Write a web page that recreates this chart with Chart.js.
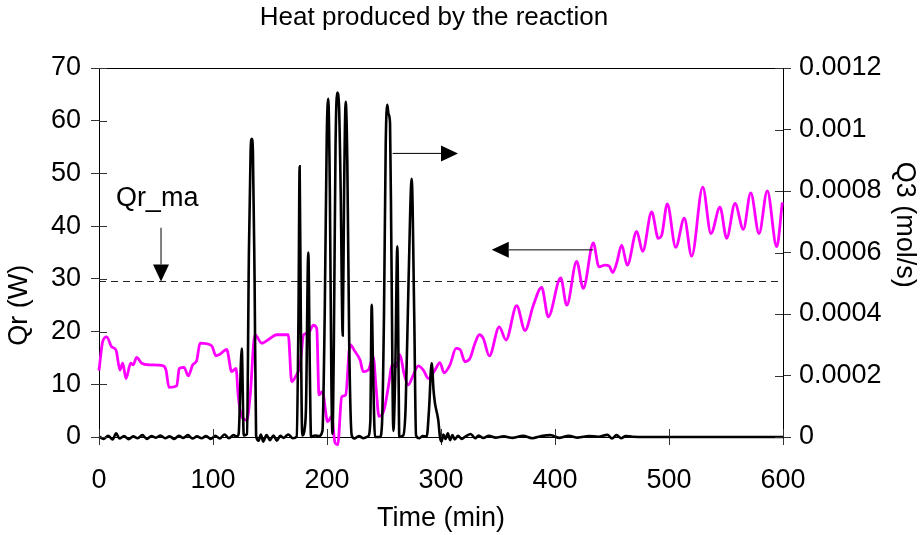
<!DOCTYPE html>
<html>
<head>
<meta charset="utf-8">
<script src="https://cdn.jsdelivr.net/npm/chart.js@4"></script>
<style>
  body { margin: 0; background: #fff; }
</style>
</head>
<body>
<canvas id="heatChart" width="920" height="535"></canvas>
<script>
// Qr (W), left axis
const qrTime = [0, 3.2, 6.8, 11.1, 14.9, 18.4, 20.8, 23.7, 27.8, 30, 33, 37.5, 44, 56.4, 58.8, 61.4, 68.2, 70.4, 74.6, 78.3, 82.2, 85.7, 88.6, 98.9, 102.6, 106.1, 112, 116.4, 120.2, 122.2, 125.2, 129.6, 132.5, 136.8, 142.7, 150, 155.9, 166, 169, 172.5, 176.3, 179.5, 183.6, 188, 191, 193, 195.9, 200.6, 204.1, 207, 209.4, 212.9, 216.4, 220.2, 224.6, 229, 231.8, 236.2, 240.6, 243, 245.6, 250, 253.8, 257.3, 260.5, 264, 267.5, 271.3, 275.7, 280.1, 284.5, 288.9, 294.7, 299.1, 302.6, 307.9, 313.2, 316.7, 321, 325.4, 329.8, 333.6, 337.1, 342.4, 351.1, 357, 366.4, 373.7, 381, 388.3, 394.1, 405, 410.3, 419, 424.8, 433.6, 438.5, 443.9, 447.6, 450.6, 454.1, 458.5, 463.4, 471.7, 476.9, 484.8, 490.6, 493.6, 498.5, 505.9, 513.4, 519.9, 529.6, 536.8, 544.7, 550.6, 557.9, 565.2, 571.7, 579, 586.2, 594.5, 599.4];
const qrValues = [12.6, 18.1, 19.0, 17.1, 16.5, 12.7, 14.0, 11.1, 14.0, 13.7, 15.1, 14.0, 13.7, 13.5, 12.7, 9.4, 9.7, 13.0, 13.2, 11.6, 13.7, 14.5, 17.8, 17.3, 15.4, 15.7, 16.6, 12.4, 13.0, 7.6, 3.9, 3.2, 7.6, 19.4, 17.8, 18.7, 19.4, 19.4, 10.5, 11.5, 13.5, 19.4, 19.7, 21.2, 20.6, 8.0, 8.6, 2.9, 3.9, -1.1, -1.5, 7.6, 8.0, 17.5, 16.2, 14.6, 12.4, 12.7, 15.2, 9.5, 3.9, 5.1, 9.5, 13.7, 13.3, 15.6, 12.1, 9.9, 11.8, 13.5, 12.7, 11.1, 12.7, 14.1, 12.2, 13.7, 16.8, 16.6, 14.3, 14.9, 17.8, 19.4, 18.7, 15.4, 20.9, 18.4, 24.9, 20.2, 25.0, 28.4, 22.8, 30.2, 25.0, 33.3, 28.2, 36.8, 32.3, 32.6, 32.4, 31.2, 33.0, 36.4, 32.6, 39.0, 35.2, 42.7, 37.7, 38.3, 44.2, 36.0, 41.5, 34.3, 47.4, 38.6, 43.6, 37.7, 44.3, 39.4, 46.3, 38.6, 46.7, 36.1, 44.5];

// Q3 (mol/s), right axis
const q3Time = [0, 4, 8, 12, 15, 18, 22, 26, 30, 34, 38, 42, 46, 50, 54, 58, 62, 66, 70, 74, 78, 82, 86, 90, 94, 98, 102, 106, 110, 114, 118, 121, 122.5, 125.2, 127, 129.8, 131.5, 133, 134, 135, 136.5, 137.8, 140, 142, 144, 147, 150, 153, 156, 159, 162, 166, 170, 173.4, 175, 176, 177, 178.3, 180.5, 181.6, 183.6, 185, 186, 189.5, 193, 196, 198, 199.8, 201.1, 202.5, 203.8, 204.8, 206, 207.5, 209, 210.5, 212, 213.8, 215, 216.4, 217.8, 219.5, 221.7, 224, 228, 232, 236, 238, 239.2, 240.5, 242.1, 246.5, 248.2, 250, 251.5, 252.9, 254, 255.3, 256.5, 258.2, 259.8, 261.7, 262.8, 263.4, 266.9, 269, 271.5, 274.3, 276.5, 278.1, 281, 284, 287.5, 289.5, 291.8, 293.5, 294.7, 297.6, 299.1, 300.5, 302, 304, 306, 308, 310, 312, 315, 318, 322, 326, 330, 333, 337, 342, 348, 355, 363, 372, 380, 388, 396, 404, 412, 420, 430, 438, 446, 450, 454, 458, 462, 468, 480, 600];
const q3Values = [0.000002, -0.000006, 0.000004, -0.000008, 0.000012, -0.000005, 0.000003, -0.000007, 0.000002, -0.000004, 0.000006, -0.000006, 0.000003, -0.000002, 0.000005, -0.000004, 0.000002, -0.000006, 0.000004, -0.000003, 0.000006, -0.000005, 0.000002, -0.000004, 0.000003, -0.000006, 0.000004, -0.000005, 0.000008, -0.000004, 0.000006, 0.000002, 0.00001, 0.000288, 0.000005, 0.00001, 0.0006, 0.00093, 0.00097, 0.00093, 0.0005, 0.000005, -0.000012, 0.000008, -0.000015, 0.000006, -0.00001, 0.000005, -0.000012, 0.000004, -0.000003, 0.000008, -0.000004, 0.000002, 0.0004, 0.00088, 0.0004, 0.000005, 0.00003, 0.0001, 0.0006, 0.0002, 0, 0.000005, 0.000003, 0.00002, 0.0004, 0.00098, 0.0011, 0.0008, 0.0002, 0.00001, 0.0003, 0.00095, 0.00112, 0.00108, 0.0008, 0.00033, 0.0008, 0.00109, 0.0009, 0.0003, 0.000005, -0.000005, 0.000003, -0.000004, 0.000002, 0.00005, 0.00043, 0.0002, 0, 0, 0.00004, 0.0004, 0.00095, 0.00108, 0.00105, 0.00102, 0.0006, 0.00002, 0.0002, 0.00062, 0.0002, 0, 0.000005, 0.0001, 0.0005, 0.00084, 0.0004, 0.000005, -0.000004, 0.000003, 0.000002, 0.00009, 0.00024, 0.00015, 0.00011, 0.000055, 0, -0.000015, 0.000008, -0.000006, 0.000012, -0.00001, 0.000006, -0.000008, 0.000004, -0.000006, 0.000003, 0.00001, -0.000004, 0.000005, -0.000003, 0.000004, -0.000002, 0.000002, -0.000003, 0.000004, -0.000004, 0.000003, 0.000006, -0.000003, 0.000004, -0.000002, 0.000003, 0.000001, 0.000007, -0.000005, 0.000006, -0.000004, 0.000003, 0.000001, 0, 0];

const qrMaTime = [0, 600];
const qrMaValues = [29.5, 29.5];

const xTicks = [0, 100, 200, 300, 400, 500, 600];

const FONT = "'Liberation Sans', Arial, sans-serif";
const TEXT_SIZE = 27;

function toPoints(xs, ys) {
  return xs.map((x, i) => ({ x: x, y: ys[i] }));
}

// title, axis titles, arrows, label, top border, inner half of the ticks
const decorations = {
  id: "decorations",
  afterDraw(chart) {
    const c = chart.ctx;
    const x = chart.scales.x, yl = chart.scales.y, yr = chart.scales.y2;
    const a = chart.chartArea;
    c.save();
    c.strokeStyle = "#000";
    c.lineWidth = 1;
    c.beginPath();
    c.moveTo(a.left, a.top + 0.5);
    c.lineTo(a.right, a.top + 0.5);
    c.stroke();

    c.strokeStyle = "#333";
    c.beginPath();
    yl.ticks.forEach(t => {
      const p = Math.round(yl.getPixelForValue(t.value)) + 0.5;
      c.moveTo(a.left, p); c.lineTo(a.left + 8, p);
    });
    yr.ticks.forEach(t => {
      const p = Math.round(yr.getPixelForValue(t.value)) + 0.5;
      c.moveTo(a.right, p); c.lineTo(a.right - 8, p);
    });
    x.ticks.forEach(t => {
      const p = Math.round(x.getPixelForValue(t.value)) + 0.5;
      c.moveTo(p, a.bottom); c.lineTo(p, a.bottom - 8);
    });
    c.stroke();

    function arrow(x1, y1, x2, y2) {
      const ang = Math.atan2(y2 - y1, x2 - x1);
      const len = 17, half = 8;
      const bx = x2 - len * Math.cos(ang), by = y2 - len * Math.sin(ang);
      c.strokeStyle = "#000";
      c.fillStyle = "#000";
      c.lineWidth = 1;
      c.beginPath();
      c.moveTo(x1, y1);
      c.lineTo(bx, by);
      c.stroke();
      c.beginPath();
      c.moveTo(x2, y2);
      c.lineTo(bx - half * Math.sin(ang), by + half * Math.cos(ang));
      c.lineTo(bx + half * Math.sin(ang), by - half * Math.cos(ang));
      c.closePath();
      c.fill();
    }

    const mx = x.getPixelForValue(54.4);
    arrow(mx, yl.getPixelForValue(39.7), mx, yl.getPixelForValue(29.5));
    arrow(x.getPixelForValue(257.6), yl.getPixelForValue(53.8), x.getPixelForValue(314.9), yl.getPixelForValue(53.8));
    arrow(x.getPixelForValue(433.6), yl.getPixelForValue(35.5), x.getPixelForValue(344.5), yl.getPixelForValue(35.5));

    c.fillStyle = "#000";
    c.textAlign = "center";
    c.textBaseline = "middle";
    c.font = TEXT_SIZE + "px " + FONT;
    c.fillText("Qr_ma", x.getPixelForValue(51), yl.getPixelForValue(45.2));

    c.font = "26px " + FONT;
    c.fillText("Heat produced by the reaction", 434, 18);

    c.font = TEXT_SIZE + "px " + FONT;
    c.save();
    c.translate(20, yl.getPixelForValue(25));
    c.rotate(-Math.PI / 2);
    c.fillText("Qr (W)", 0, 0);
    c.restore();

    c.save();
    c.translate(904, yr.getPixelForValue(0.00069));
    c.rotate(Math.PI / 2);
    c.fillText("Q3 (mol/s)", 0, 0);
    c.restore();

    c.restore();
  }
};

new Chart(document.getElementById("heatChart"), {
  type: "line",
  data: {
    datasets: [
      {
        label: "Qr_ma",
        data: toPoints(qrMaTime, qrMaValues),
        yAxisID: "y",
        borderColor: "#222",
        borderWidth: 1,
        borderDash: [7, 5],
        pointRadius: 0,
        order: 3
      },
      {
        label: "Qr",
        data: toPoints(qrTime, qrValues),
        yAxisID: "y",
        borderColor: "#ff00ff",
        borderWidth: 2.8,
        pointRadius: 0,
        cubicInterpolationMode: "monotone",
        clip: false,
        order: 2
      },
      {
        label: "Q3",
        data: toPoints(q3Time, q3Values),
        yAxisID: "y2",
        borderColor: "#000",
        borderWidth: 2.6,
        pointRadius: 0,
        cubicInterpolationMode: "monotone",
        clip: false,
        order: 1
      }
    ]
  },
  options: {
    responsive: false,
    animation: false,
    layout: { padding: { top: 68 } },
    plugins: {
      legend: { display: false },
      tooltip: { enabled: false },
      title: { display: false }
    },
    scales: {
      x: {
        type: "linear",
        min: 0,
        max: 600,
        afterBuildTicks: s => { s.ticks = xTicks.map(v => ({ value: v })); },
        afterFit: s => { s.height = 98; },
        grid: { drawOnChartArea: false, tickLength: 8, color: "#333" },
        border: { color: "#000", width: 1 },
        ticks: { color: "#000", padding: 19, maxRotation: 0, font: { family: FONT, size: TEXT_SIZE } },
        title: {
          display: true,
          text: "Time (min)",
          color: "#000",
          padding: { top: 4, bottom: 0 },
          font: { family: FONT, size: TEXT_SIZE }
        }
      },
      y: {
        position: "left",
        min: 0,
        max: 70,
        ticks: { stepSize: 10, color: "#000", padding: 10, font: { family: FONT, size: TEXT_SIZE } },
        afterFit: s => { s.width = 99; },
        grid: { drawOnChartArea: false, tickLength: 8, color: "#333" },
        border: { color: "#000", width: 1 }
      },
      y2: {
        position: "right",
        min: 0,
        max: 0.0012,
        ticks: {
          stepSize: 0.0002,
          color: "#000",
          padding: 8,
          font: { family: FONT, size: TEXT_SIZE },
          callback: v => String(+v.toFixed(4))
        },
        afterFit: s => { s.width = 137; },
        grid: { drawOnChartArea: false, tickLength: 8, color: "#333" },
        border: { color: "#000", width: 1 }
      }
    }
  },
  plugins: [decorations]
});
</script>
</body>
</html>
